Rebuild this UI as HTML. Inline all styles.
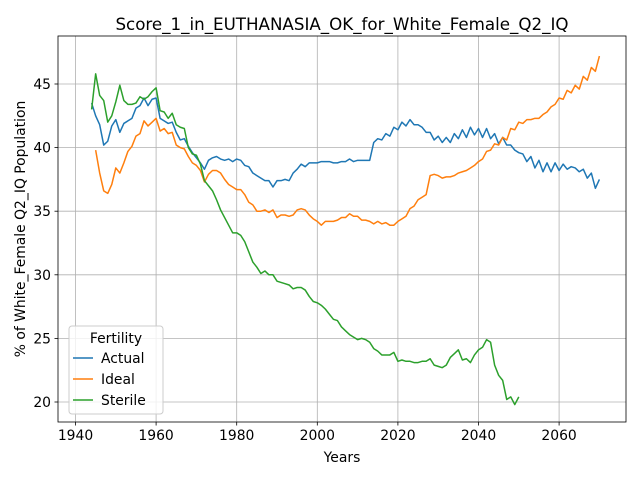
<!DOCTYPE html>
<html><head><meta charset="utf-8"><style>
body{margin:0;background:#fff;font-family:"Liberation Sans","DejaVu Sans",sans-serif}
svg text{font-family:"DejaVu Sans","Liberation Sans",sans-serif;fill:#000}
</style></head><body>
<svg id="chart" width="640" height="480"></svg>
<script>
const actualStart=1944;
const actualValues=[43.5,42.5,41.8,40.2,40.5,41.7,42.2,41.2,41.9,42.1,42.3,43.1,43.3,43.9,43.3,43.8,43.9,42.3,42.1,41.9,42.0,41.2,40.6,40.7,40.1,39.6,39.2,38.8,38.3,39.0,39.2,39.3,39.1,39.0,39.1,38.9,39.1,39.0,38.6,38.5,38.0,37.8,37.6,37.4,37.4,36.9,37.4,37.4,37.5,37.4,38.0,38.3,38.7,38.5,38.8,38.8,38.8,38.9,38.9,38.9,38.8,38.8,38.9,38.9,39.1,38.9,39.0,39.0,39.0,39.0,40.4,40.7,40.6,41.1,40.9,41.6,41.4,42.0,41.7,42.2,41.8,41.8,41.6,41.2,41.2,40.6,40.9,40.4,40.8,40.4,41.1,40.7,41.4,40.8,41.6,41.0,41.5,40.8,41.5,40.7,41.1,40.3,40.8,40.2,40.2,39.8,39.6,39.5,38.9,39.3,38.4,39.0,38.1,38.8,38.1,38.8,38.2,38.7,38.3,38.5,38.4,38.1,38.3,37.6,38.0,36.8,37.5];
const idealStart=1945;
const idealValues=[39.8,38.0,36.6,36.4,37.1,38.4,38.0,38.8,39.7,40.1,40.9,41.1,42.1,41.7,42.0,42.3,41.3,41.5,41.1,41.2,40.2,40.0,39.9,39.3,38.8,38.6,38.2,37.3,37.9,38.2,38.2,38.0,37.5,37.1,36.9,36.7,36.7,36.3,35.7,35.5,35.0,35.0,35.1,34.9,35.1,34.5,34.7,34.7,34.6,34.7,35.1,35.2,35.1,34.7,34.4,34.2,33.9,34.2,34.2,34.2,34.3,34.5,34.5,34.8,34.6,34.6,34.3,34.3,34.2,34.0,34.2,34.0,34.1,33.9,33.9,34.2,34.4,34.6,35.2,35.4,35.9,36.1,36.3,37.8,37.9,37.8,37.6,37.7,37.7,37.8,38.0,38.1,38.2,38.4,38.6,38.9,39.1,39.7,39.8,40.3,40.2,40.8,40.6,41.5,41.4,42.0,41.9,42.2,42.2,42.3,42.3,42.6,42.8,43.2,43.4,43.9,43.8,44.5,44.3,44.9,44.6,45.6,45.3,46.3,46.0,47.2];
const sterileStart=1944;
const sterileValues=[43.0,45.8,44.1,43.7,42.0,42.5,43.6,44.9,43.7,43.4,43.4,43.5,44.0,43.8,44.0,44.4,44.7,42.9,42.8,42.3,42.7,41.8,41.6,41.5,40.0,39.5,39.4,38.7,37.4,37.0,36.6,35.9,35.1,34.5,33.9,33.3,33.3,33.1,32.6,31.8,31.0,30.6,30.1,30.3,30.0,30.0,29.5,29.4,29.3,29.2,28.9,29.0,29.0,28.8,28.3,27.9,27.8,27.6,27.3,26.9,26.5,26.4,25.9,25.6,25.3,25.1,24.9,25.0,24.9,24.7,24.2,24.0,23.7,23.7,23.7,23.9,23.2,23.3,23.2,23.2,23.1,23.1,23.2,23.2,23.4,22.9,22.8,22.7,22.9,23.5,23.8,24.1,23.3,23.4,23.1,23.7,24.1,24.3,24.9,24.7,22.9,22.1,21.7,20.2,20.4,19.8,20.4];
const xTicks=[1940,1960,1980,2000,2020,2040,2060];
const yTicks=[20,25,30,35,40,45];

const NS="http://www.w3.org/2000/svg";
const svg=document.getElementById('chart');
const L=58,R=626,T=36,B=422;
const xs=v=>75.5+(v-1940)*4.03;
const ys=v=>402-(v-20)*12.72;
function mk(tag,attrs,parent){const e=document.createElementNS(NS,tag);for(const k in attrs)e.setAttribute(k,attrs[k]);(parent||svg).appendChild(e);return e;}
const grid=mk('g',{});


xTicks.forEach(t=>{
  const x=xs(t);
  mk('line',{x1:x,x2:x,y1:T,y2:B,stroke:'#b0b0b0','stroke-width':0.8},grid);
  mk('line',{x1:x,x2:x,y1:B,y2:B+3.5,stroke:'#000','stroke-width':0.8});
  const tx=mk('text',{x:x,y:B+18,'text-anchor':'middle','font-size':13.9});
  tx.textContent=t;
  
  
});
yTicks.forEach(t=>{
  const y=ys(t);
  mk('line',{x1:L,x2:R,y1:y,y2:y,stroke:'#b0b0b0','stroke-width':0.8},grid);
  mk('line',{x1:L-3.5,x2:L,y1:y,y2:y,stroke:'#000','stroke-width':0.8});
  const tx=mk('text',{x:L-7,y:y+5,'text-anchor':'end','font-size':13.9});
  tx.textContent=t;
  
  
});
function series(start,vals,color,name){
  const d=vals.map((v,i)=>(i?'L':'M')+xs(start+i).toFixed(2)+','+ys(v).toFixed(2)).join('');
  const p=mk('path',{d:d,fill:'none',stroke:color,'stroke-width':1.5,'stroke-linejoin':'round'});
  
  
}
series(actualStart,actualValues,'#1f77b4','actual-line');
series(idealStart,idealValues,'#ff7f0e','ideal-line');
series(sterileStart,sterileValues,'#2ca02c','sterile-line');
const frame=mk('rect',{x:L,y:T,width:R-L,height:B-T,fill:'none',stroke:'#000','stroke-width':0.8});


</script>
<svg width="640" height="480" style="position:absolute;left:0;top:0">
<text x="342" y="30" text-anchor="middle" font-size="16.7">Score_1_in_EUTHANASIA_OK_for_White_Female_Q2_IQ</text>
<text x="342" y="462" text-anchor="middle" font-size="13.9">Years</text>
<text x="25" y="229" text-anchor="middle" font-size="13.9" transform="rotate(-90 25 229)">% of White_Female Q2_IQ Population</text>
<g>
<rect x="69" y="326" width="94" height="88" rx="3" fill="#fff" fill-opacity="0.8" stroke="#ccc"/>
<text x="116" y="343" text-anchor="middle" font-size="13.9">Fertility</text>
<g><line x1="73" x2="93" y1="358" y2="358" stroke="#1f77b4" stroke-width="1.5"/><text x="101" y="363" font-size="13.9">Actual</text></g>
<g><line x1="73" x2="93" y1="379" y2="379" stroke="#ff7f0e" stroke-width="1.5"/><text x="101" y="384" font-size="13.9">Ideal</text></g>
<g><line x1="73" x2="93" y1="400" y2="400" stroke="#2ca02c" stroke-width="1.5"/><text x="101" y="405" font-size="13.9">Sterile</text></g>
</g>
</svg>
</body></html>
